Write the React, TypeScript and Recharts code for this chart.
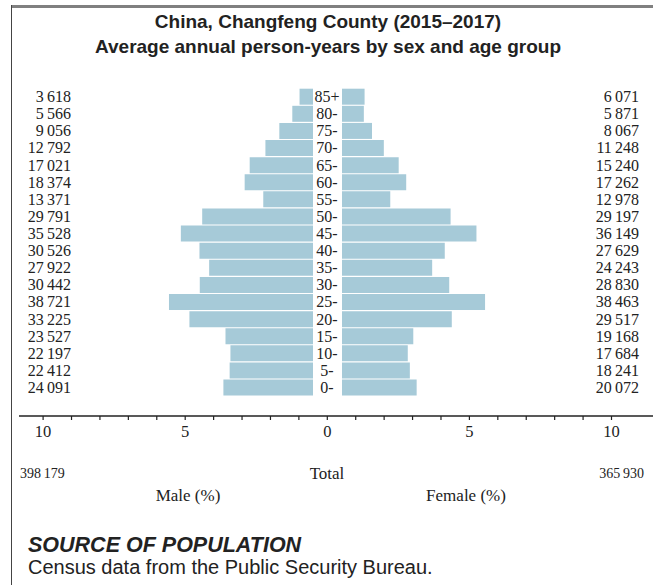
import React from 'react';
import { BarChart, Bar, XAxis, YAxis, LineChart } from 'recharts';

const AGES = ['85+', '80-', '75-', '70-', '65-', '60-', '55-', '50-', '45-', '40-', '35-', '30-', '25-', '20-', '15-', '10-', '5-', '0-'];
const MALE = [3618, 5566, 9056, 12792, 17021, 18374, 13371, 29791, 35528, 30526, 27922, 30442, 38721, 33225, 23527, 22197, 22412, 24091];
const FEMALE = [6071, 5871, 8067, 11248, 15240, 17262, 12978, 29197, 36149, 27629, 24243, 28830, 38463, 29517, 19168, 17684, 18241, 20072];
const MALE_TOTAL = 398179;
const FEMALE_TOTAL = 365930;
const AXIS_TICKS = [-10, -9, -8, -7, -6, -5, -4, -3, -2, -1, 0, 1, 2, 3, 4, 5, 6, 7, 8, 9, 10];
const AXIS_LABELED = [-10, -5, 0, 5, 10];

const TITLE_1 = 'China, Changfeng County (2015\u20132017)';
const TITLE_2 = 'Average annual person-years by sex and age group';
const SOURCE_HEAD = 'SOURCE OF POPULATION';
const SOURCE_TEXT = 'Census data from the Public Security Bureau.';

const GRAND = MALE_TOTAL + FEMALE_TOTAL;
const rows = AGES.map((age, i) => ({
  age,
  maleCount: MALE[i],
  femaleCount: FEMALE[i],
  male: (MALE[i] / GRAND) * 100,
  female: (FEMALE[i] / GRAND) * 100,
}));

const fmt = (n: number) => String(n).replace(/\B(?=(\d{3})+(?!\d))/g, '\u2009');

const UNIT = 28.42; // px per percent
const SERIF = '"Liberation Serif", "Times New Roman", serif';
const SANS = '"Liberation Sans", Arial, sans-serif';
const BAR_FILL = '#a6cad8';
const TXT = '#222';

const TOP = 88;
const H = 308;

const M_LEFT_W = 80;
const M_RIGHT_W = 29;
const M_WIDTH = 342;
const M_PLOT = M_WIDTH - M_LEFT_W - M_RIGHT_W;

const F_LEFT = 342;
const F_WIDTH = 311;
const F_RIGHT_W = 91;
const F_PLOT = F_WIDTH - F_RIGHT_W;

const AX_LEFT = 19;
const AX_WIDTH = 634;
const AX_ZERO = 327.3;

const CountTickLeft = (props: any) => {
  const { x, y, index } = props;
  return (
    <text x={x - 9} y={y} dy="0.35em" textAnchor="end" fontFamily={SERIF} fontSize={16} fill={TXT}>
      {fmt(MALE[index])}
    </text>
  );
};

const AgeTick = (props: any) => {
  const { x, y, payload } = props;
  return (
    <text x={x + 14} y={y} dy="0.35em" textAnchor="middle" fontFamily={SERIF} fontSize={16} fill={TXT}>
      {payload.value}
    </text>
  );
};

const CountTickRight = (props: any) => {
  const { x, y, index } = props;
  return (
    <text x={x + 77} y={y} dy="0.35em" textAnchor="end" fontFamily={SERIF} fontSize={16} fill={TXT}>
      {fmt(FEMALE[index])}
    </text>
  );
};

const AxisTick = (props: any) => {
  const { x, y, payload } = props;
  if (!AXIS_LABELED.includes(payload.value)) return null;
  return (
    <text x={x} y={y} dy="0.75em" textAnchor="middle" fontFamily={SERIF} fontSize={16.5} fill={TXT}>
      {Math.abs(payload.value)}
    </text>
  );
};

const abs = (style: React.CSSProperties): React.CSSProperties => ({ position: 'absolute', ...style });

export default function App() {
  return (
    <div style={{ position: 'absolute', left: 0, top: 0, width: 653, height: 585, background: '#fff', overflow: 'hidden' }}>
      <div style={abs({ left: 11, top: 5, width: 642, height: 3, background: '#808080' })} />
      <div style={abs({ left: 11, top: 5, width: 1, height: 580, background: '#444' })} />

      <div style={abs({ left: 0, top: 9, width: 656, textAlign: 'center', fontFamily: SANS, fontWeight: 700, fontSize: 19, lineHeight: '25px', color: TXT })}>
        <div>{TITLE_1}</div>
        <div>{TITLE_2}</div>
      </div>

      <div style={abs({ left: 0, top: TOP })}>
        <BarChart width={M_WIDTH} height={H} data={rows} layout="vertical" margin={{ top: 0, right: 0, bottom: 0, left: 0 }} barCategoryGap={0.7}>
          <XAxis type="number" reversed domain={[0, M_PLOT / UNIT]} allowDataOverflow hide />
          <YAxis yAxisId="counts" type="category" dataKey="age" orientation="left" width={M_LEFT_W} axisLine={false} tickLine={false} tickSize={0} tickMargin={0} tick={<CountTickLeft />} interval={0} />
          <YAxis yAxisId="ages" type="category" dataKey="age" orientation="right" width={M_RIGHT_W} axisLine={false} tickLine={false} tickSize={0} tickMargin={0} tick={<AgeTick />} interval={0} />
          <Bar yAxisId="ages" dataKey="male" fill={BAR_FILL} isAnimationActive={false} />
        </BarChart>
      </div>

      <div style={abs({ left: F_LEFT, top: TOP })}>
        <BarChart width={F_WIDTH} height={H} data={rows} layout="vertical" margin={{ top: 0, right: 0, bottom: 0, left: 0 }} barCategoryGap={0.7}>
          <XAxis type="number" domain={[0, F_PLOT / UNIT]} allowDataOverflow hide />
          <YAxis type="category" dataKey="age" orientation="right" width={F_RIGHT_W} axisLine={false} tickLine={false} tickSize={0} tickMargin={0} tick={<CountTickRight />} interval={0} />
          <Bar dataKey="female" fill={BAR_FILL} isAnimationActive={false} />
        </BarChart>
      </div>

      <div style={abs({ left: AX_LEFT, top: 411 })}>
        <LineChart width={AX_WIDTH} height={40} data={rows} margin={{ top: 0, right: 0, bottom: 0, left: 0 }}>
          <XAxis
            type="number"
            dataKey="male"
            domain={[-(AX_ZERO - AX_LEFT) / UNIT, (AX_LEFT + AX_WIDTH - AX_ZERO) / UNIT]}
            allowDataOverflow
            ticks={AXIS_TICKS}
            interval={0}
            height={35}
            axisLine={{ stroke: '#222', strokeWidth: 1.3 }}
            tickLine={{ stroke: '#222', strokeWidth: 1.2 }}
            tickSize={4}
            tickMargin={5}
            tick={<AxisTick />}
          />
          <YAxis hide />
        </LineChart>
      </div>

      <div style={abs({ left: 20, top: 465, fontFamily: SERIF, fontSize: 14, color: TXT, lineHeight: '18px' })}>{fmt(MALE_TOTAL)}</div>
      <div style={abs({ left: 277, width: 100, top: 464, textAlign: 'center', fontFamily: SERIF, fontSize: 17, color: TXT, lineHeight: '20px' })}>Total</div>
      <div style={abs({ left: 544, width: 100, top: 465, textAlign: 'right', fontFamily: SERIF, fontSize: 14, color: TXT, lineHeight: '18px' })}>{fmt(FEMALE_TOTAL)}</div>
      <div style={abs({ left: 138, width: 100, top: 486, textAlign: 'center', fontFamily: SERIF, fontSize: 17, color: TXT, lineHeight: '20px' })}>Male (%)</div>
      <div style={abs({ left: 416, width: 100, top: 486, textAlign: 'center', fontFamily: SERIF, fontSize: 17, color: TXT, lineHeight: '20px' })}>Female (%)</div>

      <div style={abs({ left: 28, top: 532, fontFamily: SANS, fontWeight: 700, fontStyle: 'italic', fontSize: 21.5, color: TXT, lineHeight: '26px' })}>{SOURCE_HEAD}</div>
      <div style={abs({ left: 28, top: 556, fontFamily: SANS, fontSize: 20, color: TXT, lineHeight: '22px' })}>{SOURCE_TEXT}</div>
    </div>
  );
}
